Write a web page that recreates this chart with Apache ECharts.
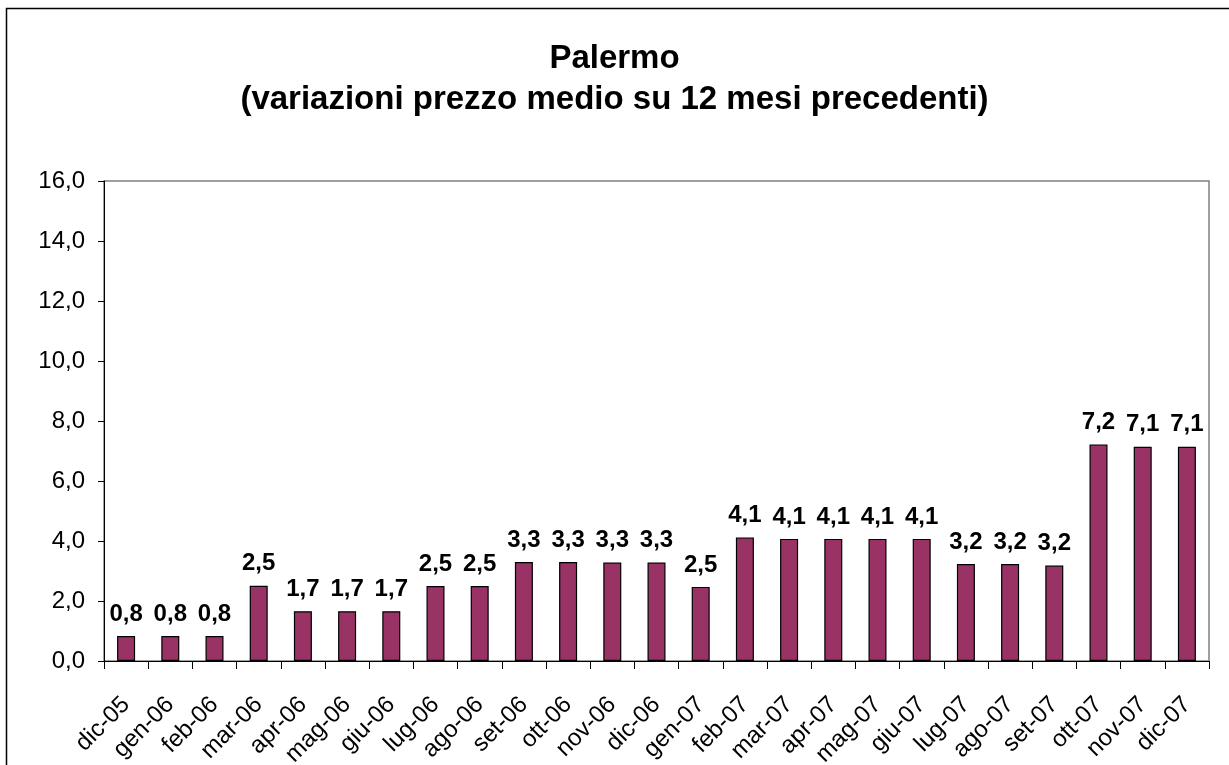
<!DOCTYPE html>
<html>
<head>
<meta charset="utf-8">
<script src="https://cdn.jsdelivr.net/npm/echarts@6/dist/echarts.min.js"></script>
<style>
  html, body { margin: 0; padding: 0; background: #fff; }
  #main { width: 1229px; height: 765px; }
</style>
</head>
<body>
<div id="main"></div>
<script>
// months on the x axis
const months = ['dic-05', 'gen-06', 'feb-06', 'mar-06', 'apr-06', 'mag-06', 'giu-06', 'lug-06', 'ago-06',
  'set-06', 'ott-06', 'nov-06', 'dic-06', 'gen-07', 'feb-07', 'mar-07', 'apr-07', 'mag-07', 'giu-07',
  'lug-07', 'ago-07', 'set-07', 'ott-07', 'nov-07', 'dic-07'];

// variazioni (%)
const variazioni = [0.83, 0.83, 0.83, 2.51, 1.66, 1.66, 1.66, 2.5, 2.5,
  3.3, 3.3, 3.28, 3.28, 2.47, 4.12, 4.07, 4.07, 4.07, 4.07,
  3.23, 3.23, 3.18, 7.22, 7.14, 7.14];

const yMin = 0, yMax = 16, yStep = 2;

const fmt = v => v.toFixed(1).replace('.', ',');
const font = 'Liberation Sans, Arial, sans-serif';

var myChart = echarts.init(document.getElementById('main'));

var option = {
  backgroundColor: '#fff',
  textStyle: { fontFamily: font },
  title: {
    text: 'Palermo\n(variazioni prezzo medio su 12 mesi precedenti)',
    left: 'center',
    top: 33,
    textStyle: { fontSize: 33, fontWeight: 'bold', color: '#000', lineHeight: 41, fontFamily: font }
  },
  graphic: [{
    type: 'rect',
    shape: { x: 6.5, y: 8.5, width: 1260, height: 800 },
    style: { fill: 'none', stroke: '#000', lineWidth: 1.5 },
    silent: true
  }],
  grid: {
    left: 104, right: 20, top: 181, bottom: 104,
    outerBoundsMode: 'none', containLabel: false,
    show: true, borderColor: '#808080', borderWidth: 1.5
  },
  xAxis: {
    type: 'category',
    data: months,
    axisLine: { lineStyle: { color: '#000', width: 1 } },
    axisTick: { show: true, length: 8, alignWithLabel: false, lineStyle: { color: '#000' } },
    axisLabel: { rotate: 45, fontSize: 24, color: '#000', margin: 40, interval: 0, fontFamily: font }
  },
  yAxis: {
    type: 'value',
    min: yMin, max: yMax, interval: yStep,
    splitLine: { show: false },
    axisLine: { show: true, lineStyle: { color: '#000', width: 1 } },
    axisTick: { show: true, length: 6, lineStyle: { color: '#000' } },
    axisLabel: { fontSize: 24, color: '#000', margin: 19, formatter: fmt, fontFamily: font }
  },
  series: [{
    type: 'bar',
    data: variazioni,
    barWidth: 18,
    itemStyle: { color: '#993366', borderColor: '#000', borderWidth: 1.2 },
    label: {
      show: true,
      position: 'top',
      distance: 10,
      fontSize: 24,
      fontWeight: 'bold',
      color: '#000',
      fontFamily: font,
      formatter: p => fmt(p.value)
    }
  }]
};

myChart.setOption(option);
</script>
</body>
</html>
